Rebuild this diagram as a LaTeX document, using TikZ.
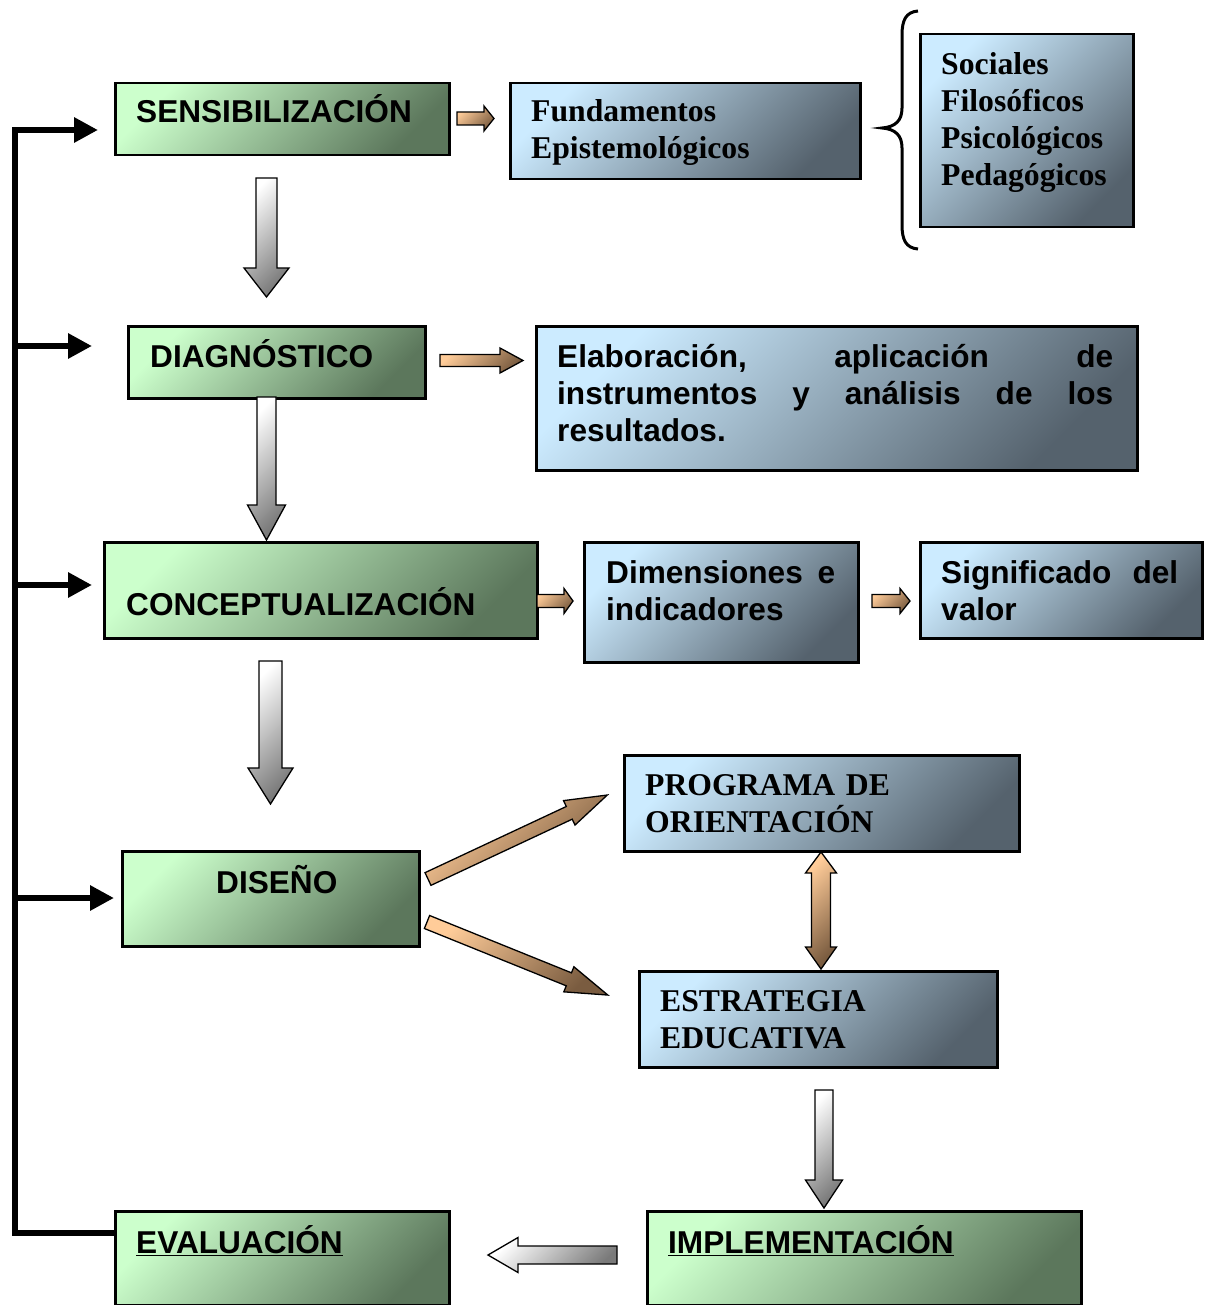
\documentclass[tikz,border=0pt]{standalone}
\usepackage{fontspec}
\setmainfont{Liberation Serif}
\setsansfont{Liberation Sans}
\usetikzlibrary{arrows.meta}
\definecolor{gL}{HTML}{CCFFCC}
\definecolor{gD}{HTML}{5C775C}
\definecolor{bL}{HTML}{CCEBFF}
\definecolor{bD}{HTML}{55626D}
\definecolor{tL}{HTML}{FFCC99}
\definecolor{tD}{HTML}{7A5C40}
\definecolor{aL}{HTML}{FFFFFF}
\definecolor{aD}{HTML}{7A7A7A}
\tikzset{
  box/.style={draw=black, line width=2.5pt, rectangle, inner sep=0pt, anchor=north west},
  gbox/.style={box, top color=gL, bottom color=gD, shading angle=45},
  bbox/.style={box, top color=bL, bottom color=bD, shading angle=45},
  lab/.style={anchor=base west, inner sep=0pt, align=left, text=black},
  sanslab/.style={lab, font=\fontsize{31.6pt}{37pt}\selectfont\sffamily\bfseries},
  seriflab/.style={lab, font=\fontsize{31.7pt}{37pt}\selectfont\rmfamily\bfseries},
  grayarrow/.style={draw=black, line width=1.3pt, line join=miter, top color=aL, bottom color=aD, shading angle=45},
  tanarrow/.style={draw=black, line width=1.3pt, line join=miter, top color=tL, bottom color=tD, shading angle=45},
  bus/.style={line width=6pt, line join=miter, -{Triangle[length=24pt,width=24pt]}}
}
% #1 style, #2 start, #3 angle, #4 length, #5 half shaft, #6 half head, #7 head length
\newcommand{\blockarr}[7]{\path[#1, shift={#2}, rotate=#3] (0,-#5) -- ({#4-#7},-#5) -- ({#4-#7},-#6) -- (#4,0) -- ({#4-#7},#6) -- ({#4-#7},#5) -- (0,#5) -- cycle;}
\newcommand{\jline}[2]{\makebox[#1][l]{#2}}
\begin{document}
\begin{tikzpicture}[x=1pt, y=-1pt]
\useasboundingbox (0,0) rectangle (1204,1305);
% boxes
\node[gbox, minimum width=334pt, minimum height=72pt] (sens) at (114,82) {};
\node[bbox, minimum width=350pt, minimum height=96pt] (fund) at (509,82) {};
\node[bbox, minimum width=213pt, minimum height=193pt] (soc) at (919,33) {};
\node[gbox, minimum width=297pt, minimum height=72pt] (diag) at (127,325) {};
\node[bbox, minimum width=601pt, minimum height=144pt] (elab) at (535,325) {};
\node[gbox, minimum width=433pt, minimum height=96pt] (conc) at (103,541) {};
\node[bbox, minimum width=274pt, minimum height=120pt] (dim) at (583,541) {};
\node[bbox, minimum width=282pt, minimum height=96pt] (sig) at (919,541) {};
\node[gbox, minimum width=297pt, minimum height=95pt] (dis) at (121,850) {};
\node[bbox, minimum width=395pt, minimum height=96pt] (prog) at (623,754) {};
\node[bbox, minimum width=358pt, minimum height=96pt] (estr) at (638,970) {};
\node[gbox, minimum width=434pt, minimum height=94pt] (impl) at (646,1210) {};
\node[gbox, minimum width=334pt, minimum height=94pt] (eval) at (114,1210) {};
% brace
\draw[line width=3pt] (918,11) .. controls (906,12) and (902,20) .. (902,35) -- (902,108)
  .. controls (902,121) and (895,127) .. (882,128) .. controls (895,129) and (902,135) .. (902,148)
  -- (902,225) .. controls (902,240) and (906,248) .. (918,249);
% gray block arrows
\blockarr{grayarrow}{(266.5,178)}{-90}{119}{10.5}{22.5}{29}
\blockarr{grayarrow}{(266.5,397)}{-90}{143}{9.5}{19}{35}
\blockarr{grayarrow}{(270.5,661)}{-90}{143}{11.5}{22.5}{36}
\blockarr{grayarrow}{(824,1090)}{-90}{118}{9}{18.5}{28}
\blockarr{grayarrow}{(617,1255)}{180}{129}{9}{17.5}{30}
% tan block arrows
\blockarr{tanarrow}{(457,118.5)}{0}{37}{6.5}{12.5}{10}
\blockarr{tanarrow}{(440,360.5)}{0}{83}{6}{12.5}{23}
\blockarr{tanarrow}{(537,601)}{0}{36}{6.5}{12.5}{9}
\blockarr{tanarrow}{(872,601)}{0}{38}{6.5}{12.5}{10}
\blockarr{tanarrow}{(428,879)}{25.1}{198}{7}{13.5}{42}
\blockarr{tanarrow}{(427,922)}{-22}{195}{7}{13.5}{42}
\path[tanarrow] (821,852) -- (836.5,873) -- (830.5,873) -- (830.5,947) -- (836.5,947) -- (821,969)
  -- (805.5,947) -- (811.5,947) -- (811.5,873) -- (805.5,873) -- cycle;
% feedback bus
\coordinate (b1) at (15,130);
\coordinate (b2) at (15,346);
\coordinate (b3) at (15,585);
\coordinate (b4) at (15,898);
\coordinate (b5) at (15,1233);
\coordinate (t1) at (98,130);
\coordinate (t2) at (92,346);
\coordinate (t3) at (92,585);
\coordinate (t4) at (114,898);
\draw[bus] (eval.west |- b5) -- (b5) -- (b1) -- (t1);
\draw[bus] (b2) -- (t2);
\draw[bus] (b3) -- (t3);
\draw[bus] (b4) -- (t4);
% texts
\node[sanslab, text width=320pt] (sens-t) at (136,123) {SENSIBILIZACIÓN};
\node[seriflab, text width=330pt] (fund-t) at (531,122) {Fundamentos\\Epistemológicos};
\node[seriflab, text width=190pt] (soc-t) at (941,75) {Sociales\\Filosóficos\\Psicológicos\\Pedagógicos};
\node[sanslab, text width=290pt] (diag-t) at (150,367) {DIAGNÓSTICO};
\node[sanslab, text width=556pt] (elab-t) at (557,367) {\jline{556pt}{Elaboración,\hfill aplicación\hfill de}\\\jline{556pt}{instrumentos\hfill y\hfill análisis\hfill de\hfill los}\\resultados.};
\node[sanslab, text width=420pt] (conc-t) at (126,615) {CONCEPTUALIZACIÓN};
\node[sanslab, text width=229pt] (dim-t) at (606,583) {\jline{229pt}{Dimensiones\hfill e}\\indicadores};
\node[sanslab, text width=237pt] (sig-t) at (941,583) {\jline{237pt}{Significado\hfill del}\\valor};
\node[sanslab, text width=200pt] (dis-t) at (216,893) {DISEÑO};
\node[seriflab, text width=370pt] (prog-t) at (645,795) {PROGRAMA DE\\ORIENTACIÓN};
\node[seriflab, text width=330pt] (estr-t) at (660,1011) {ESTRATEGIA\\EDUCATIVA};
\node[sanslab, text width=400pt] (impl-t) at (668,1253) {\underline{IMPLEMENTACIÓN}};
\node[sanslab, text width=320pt] (eval-t) at (136,1253) {\underline{EVALUACIÓN}};
\end{tikzpicture}
\end{document}
